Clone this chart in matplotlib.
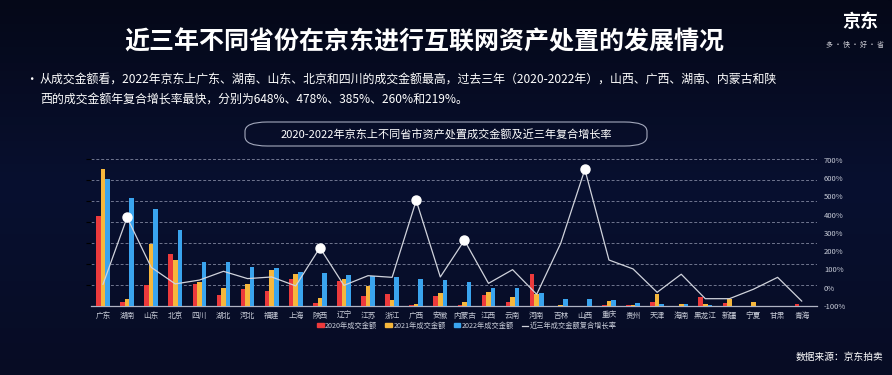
import matplotlib
matplotlib.use("Agg")
import matplotlib.pyplot as plt
import numpy as np
from matplotlib.patches import FancyBboxPatch, Patch
from matplotlib.lines import Line2D
from matplotlib.colors import LinearSegmentedColormap

plt.rcParams['font.family'] = ['Noto Sans CJK SC', 'DejaVu Sans']

provinces = ['广东', '湖南', '山东', '北京', '四川', '湖北', '河北', '福建', '上海', '陕西',
             '辽宁', '江苏', '浙江', '广西', '安徽', '内蒙古', '江西', '云南', '河南', '吉林',
             '山西', '重庆', '贵州', '天津', '海南', '黑龙江', '新疆', '宁夏', '甘肃', '青海']
# relative transaction amounts (index, no axis shown)
amt_2020 = [431, 19, 101, 248, 104, 53, 82, 70, 129, 14,
            121, 49, 56, 4, 48, 6, 54, 19, 153, 0,
            0, 4, 4, 18, 0, 42, 16, 0, 0, 11]
amt_2021 = [652, 32, 297, 219, 115, 86, 104, 171, 155, 37,
            129, 97, 29, 8, 64, 18, 67, 45, 58, 3,
            0, 24, 4, 58, 11, 11, 35, 18, 0, 0]
amt_2022 = [607, 516, 463, 361, 208, 208, 187, 182, 163, 158,
            150, 144, 139, 129, 126, 115, 85, 86, 64, 35,
            35, 27, 14, 10, 8, 6, 0, 0, 0, 0]
cagr = [19, 385, 112, 21, 42, 90, 50, 59, 10, 219,
        13, 66, 57, 478, 59, 260, 24, 99, -36, 244,
        648, 152, 103, -25, 74, -60, -60, -8, 57, -73]
highlight = ['湖南', '陕西', '广西', '内蒙古', '山西']
right_ticks = [-100, 0, 100, 200, 300, 400, 500, 600, 700]
legend_labels = ['2020年成交金额', '2021年成交金额', '2022年成交金额', '近三年成交金额复合增长率']

title = '近三年不同省份在京东进行互联网资产处置的发展情况'
bullet1 = '从成交金额看，2022年京东上广东、湖南、山东、北京和四川的成交金额最高，过去三年（2020-2022年），山西、广西、湖南、内蒙古和陕'
bullet2 = '西的成交金额年复合增长率最快，分别为648%、478%、385%、260%和219%。'
subtitle = '2020-2022年京东上不同省市资产处置成交金额及近三年复合增长率'
source = '数据来源：京东拍卖'

W, H = 892, 375
BG = '#070c22'
RED, YEL, BLU = '#ec3a3c', '#f6b73c', '#3aa4ee'
LINEC = '#d0d3dc'
TXT = '#c8ccd8'

fig = plt.figure(figsize=(W / 100, H / 100), dpi=100)
fig.patch.set_facecolor(BG)

# background gradient
bg = fig.add_axes([0, 0, 1, 1], zorder=-10)
grad = np.linspace(0, 1, 256).reshape(-1, 1)
cmap = LinearSegmentedColormap.from_list('bg', ['#050818', '#081030', '#070c24'])
bg.imshow(grad, aspect='auto', cmap=cmap, extent=[0, 1, 0, 1])
bg.axis('off')

def fx(px):
    return px / W

def fy(py):
    return 1 - py / H

# titles
fig.text(fx(424), fy(42), title, color='white', fontsize=18, ha='center', va='center', fontweight='bold')
fig.text(fx(860), fy(21), '京东', color='white', fontsize=13, ha='center', va='center', fontweight='bold')
fig.text(fx(855), fy(45), '多 · 快 · 好 · 省', color='#d0d0d8', fontsize=5, ha='center', va='center')
fig.text(fx(31), fy(80), '•', color='white', fontsize=9, ha='center', va='center')
fig.text(fx(40), fy(80), bullet1, color='white', fontsize=8.6, ha='left', va='center')
fig.text(fx(40), fy(100), bullet2, color='white', fontsize=8.6, ha='left', va='center')

box = FancyBboxPatch((fx(245), fy(146)), fx(647) - fx(245), fy(122) - fy(146),
                     boxstyle='round,pad=0,rounding_size=0.025', transform=fig.transFigure,
                     facecolor='none', edgecolor='#a4a9bd', linewidth=0.8)
fig.patches.append(box)
fig.text(fx(446), fy(134), subtitle, color='white', fontsize=8, ha='center', va='center')

fig.text(fx(839), fy(357), source, color='white', fontsize=7, ha='center', va='center')

# main axes
left, right, bottom, top = 91, 817, 306, 155
ax = fig.add_axes([fx(left), fy(bottom), fx(right) - fx(left), fy(top) - fy(bottom)])
ax.set_facecolor('none')
x = np.arange(len(provinces))
bw = 0.19
ax.bar(x - bw, amt_2020, bw, color=RED, zorder=3)
ax.bar(x, amt_2021, bw, color=YEL, zorder=3)
ax.bar(x + bw, amt_2022, bw, color=BLU, zorder=3)
ax.set_xlim(-0.498, 29.635)
ax.set_ylim(0, 721)
ax.set_yticks([100, 200, 300, 400, 500, 600, 700])
ax.yaxis.grid(True, color='#8a90a8', linestyle=(0, (3, 2)), linewidth=0.7, alpha=0.8)
ax.tick_params(axis='y', left=False, labelleft=False)
ax.set_xticks(x)
ax.set_xticklabels(provinces, fontsize=5.5, color=TXT)
ax.tick_params(axis='x', length=0, pad=4)
for s in ['top', 'right', 'left']:
    ax.spines[s].set_visible(False)
ax.spines['bottom'].set_color('#b0b4c4')
ax.spines['bottom'].set_linewidth(0.9)
ax.set_axisbelow(True)

ax2 = ax.twinx()
ax2.set_ylim(-100, 727)
ax2.set_yticks(right_ticks)
ax2.set_yticklabels([f'{v}%' for v in right_ticks], fontsize=5.5, color=TXT)
ax2.tick_params(axis='y', length=0, pad=5)
for s in ax2.spines.values():
    s.set_visible(False)
ax2.plot(x, cagr, color=LINEC, linewidth=0.9, zorder=4)
hi = [provinces.index(p) for p in highlight]
ax2.plot([x[i] for i in hi], [cagr[i] for i in hi], 'o', color='white', markersize=6.5, zorder=5)

handles = [Patch(color=RED), Patch(color=YEL), Patch(color=BLU), Line2D([], [], color=LINEC, linewidth=0.9)]
fig.legend(handles, legend_labels, loc='center', bbox_to_anchor=(fx(467), fy(326)), ncol=4,
           frameon=False, fontsize=5.2, labelcolor=TXT, handlelength=0.9, handleheight=0.5,
           handletextpad=0.2, columnspacing=1.1)

fig.savefig('out.png', dpi=100, facecolor=fig.get_facecolor())
